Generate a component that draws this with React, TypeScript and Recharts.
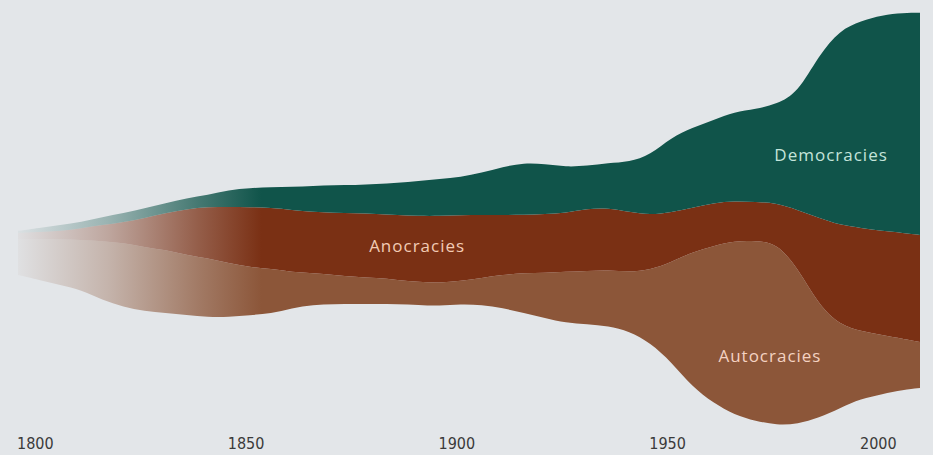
import React from "react";
import { AreaChart, Area, XAxis, YAxis, ReferenceDot } from "recharts";

// Years sampled (every 5 years, last point 2014)
const years = [
  1800, 1805, 1810, 1815, 1820, 1825, 1830, 1835, 1840, 1845, 1850, 1855, 1860, 1865, 1870,
  1875, 1880, 1885, 1890, 1895, 1900, 1905, 1910, 1915, 1920, 1925, 1930, 1935, 1940, 1945,
  1950, 1955, 1960, 1965, 1970, 1975, 1980, 1985, 1990, 1995, 2000, 2005, 2010, 2014,
];

// Invisible offset under the stream (keeps the stream's vertical position)
const baseline = [
  68.9, 66.7, 64.4, 62.2, 57.8, 54.7, 52.9, 52.0, 51.1, 50.2, 50.2, 51.1, 51.6, 54.2, 55.6,
  56.0, 56.0, 56.0, 56.0, 55.6, 55.1, 56.0, 55.6, 54.2, 52.0, 49.8, 47.6, 47.1, 46.2, 44.0,
  38.7, 30.2, 19.1, 12.0, 6.7, 4.0, 2.2, 2.7, 5.3, 9.8, 13.8, 16.0, 17.8, 18.7,
];

// Number of countries by regime type
const autocracies = [
  16.0, 18.2, 20.4, 22.2, 26.2, 28.4, 28.4, 28.0, 26.7, 26.2, 24.0, 21.3, 20.0, 16.0, 14.2,
  12.9, 12.0, 11.6, 10.7, 10.2, 10.2, 10.2, 12.0, 14.7, 17.8, 20.0, 22.7, 23.6, 24.9, 26.2,
  32.4, 44.4, 60.0, 69.8, 77.3, 80.0, 80.9, 69.3, 50.2, 36.9, 30.2, 26.2, 22.7, 20.4,
];
const anocracies = [
  2.7, 3.1, 3.6, 5.3, 7.1, 9.3, 12.9, 16.4, 20.4, 22.7, 24.9, 26.7, 27.1, 27.6, 27.1,
  27.6, 28.4, 28.4, 28.9, 29.3, 29.8, 29.3, 28.0, 26.7, 25.8, 26.2, 26.2, 27.6, 27.6, 26.7,
  24.4, 22.2, 19.6, 19.1, 17.8, 17.3, 17.8, 25.8, 38.7, 44.4, 45.8, 46.2, 47.1, 47.6,
];
const democracies = [
  0.9, 1.8, 2.7, 2.7, 3.6, 4.0, 4.4, 4.4, 4.9, 5.3, 7.6, 8.4, 9.3, 10.2, 11.6,
  12.4, 12.4, 13.3, 14.2, 15.6, 16.4, 16.9, 18.7, 21.3, 23.1, 22.2, 20.4, 19.1, 20.0, 22.2,
  26.7, 33.3, 35.6, 36.9, 39.6, 41.3, 44.0, 52.0, 72.4, 86.7, 92.0, 96.0, 97.8, 98.7,
];

const tickYears = [1800, 1850, 1900, 1950, 2000];

const data = years.map((year, i) => ({
  year,
  baseline: baseline[i],
  autocracies: autocracies[i],
  anocracies: anocracies[i],
  democracies: democracies[i],
}));

const BG = "#e3e6e9";
const GREEN = "#10544a";
const RED = "#7a3014";
const BROWN = "#8c5639";

const Tick = (props: any) => {
  const { x, payload } = props;
  return (
    <text
      x={x - 1}
      y={449}
      textAnchor="start"
      fill="#3a3a3a"
      fontSize={16}
      fontFamily="'DejaVu Sans Condensed', 'Liberation Sans Narrow', sans-serif"
    >
      {payload.value}
    </text>
  );
};

const labelFont = "'Open Sans', 'DejaVu Sans', sans-serif";

export default function App() {
  return (
    <div style={{ width: 933, height: 455, background: BG }}>
      <style>{`body{margin:0;background:${BG};}`}</style>
      <AreaChart
        width={933}
        height={455}
        data={data}
        margin={{ top: 0, right: 13, bottom: 0, left: 18 }}
      >
        <defs>
          {[
            ["gDem", GREEN],
            ["gAno", RED],
            ["gAut", BROWN],
          ].map(([id, c]) => (
            <linearGradient key={id} id={id} x1="0" y1="0" x2="1" y2="0">
              <stop offset="0%" stopColor={c} stopOpacity={0.04} />
              <stop offset="10%" stopColor={c} stopOpacity={0.35} />
              <stop offset="20%" stopColor={c} stopOpacity={0.75} />
              <stop offset="27%" stopColor={c} stopOpacity={1} />
              <stop offset="100%" stopColor={c} stopOpacity={1} />
            </linearGradient>
          ))}
        </defs>
        <XAxis
          dataKey="year"
          type="number"
          domain={[1800, 2014]}
          ticks={tickYears}
          height={25}
          axisLine={false}
          tickLine={false}
          tick={<Tick />}
          interval={0}
        />
        <YAxis hide domain={[0, 191.1]} />
        <Area
          type="basis"
          dataKey="baseline"
          stackId="s"
          stroke="none"
          fill="none"
          fillOpacity={0}
          isAnimationActive={false}
          activeDot={false}
        />
        <Area
          type="basis"
          dataKey="autocracies"
          stackId="s"
          stroke="none"
          fill="url(#gAut)"
          fillOpacity={1}
          isAnimationActive={false}
          activeDot={false}
        />
        <Area
          type="basis"
          dataKey="anocracies"
          stackId="s"
          stroke="none"
          fill="url(#gAno)"
          fillOpacity={1}
          isAnimationActive={false}
          activeDot={false}
        />
        <Area
          type="basis"
          dataKey="democracies"
          stackId="s"
          stroke="none"
          fill="url(#gDem)"
          fillOpacity={1}
          isAnimationActive={false}
          activeDot={false}
        />
        <ReferenceDot
          x={1992.9}
          y={122.2}
          r={0}
          fill="none"
          stroke="none"
          label={{ value: "Democracies", position: "center", fill: "#c4e4da", fontSize: 17, fontFamily: labelFont, letterSpacing: 1 }}
        />
        <ReferenceDot
          x={1894.7}
          y={81.8}
          r={0}
          fill="none"
          stroke="none"
          label={{ value: "Anocracies", position: "center", fill: "#f2cbb4", fontSize: 17, fontFamily: labelFont, letterSpacing: 1 }}
        />
        <ReferenceDot
          x={1978.4}
          y={32.9}
          r={0}
          fill="none"
          stroke="none"
          label={{ value: "Autocracies", position: "center", fill: "#f4d2c2", fontSize: 17, fontFamily: labelFont, letterSpacing: 1 }}
        />
      </AreaChart>
    </div>
  );
}
